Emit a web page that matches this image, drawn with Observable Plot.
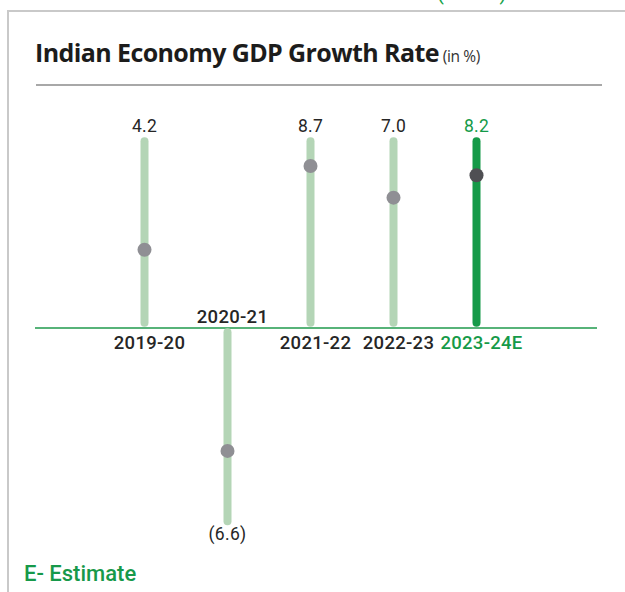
<!DOCTYPE html>
<html>
<head>
<meta charset="utf-8">
<script src="https://cdn.jsdelivr.net/npm/d3@7"></script>
<script src="https://cdn.jsdelivr.net/npm/@observablehq/plot@0.6"></script>
<style>
  html, body { margin: 0; padding: 0; background: #fff; }
  #wrap { position: relative; width: 625px; height: 592px; overflow: hidden; font-family: Roboto, sans-serif; }
  #topcut { position: absolute; left: 437px; top: -19px; font: 400 20px Roboto, sans-serif; color: #17a34a; letter-spacing: 2px; white-space: nowrap; }
  #boxTop { position: absolute; left: 7px; top: 10px; width: 630px; height: 0; border-top: 2px solid #c9c9c9; }
  #boxLeft { position: absolute; left: 7px; top: 10px; width: 0; height: 600px; border-left: 2px solid #c9c9c9; }
  #title { position: absolute; left: 35px; top: 35px; white-space: nowrap; color: #1c1c1c; }
  #title .main { font: 700 25px "Open Sans", sans-serif; letter-spacing: -0.6px; }
  #title .unit { font: 400 15.5px "Open Sans", sans-serif; color: #333; letter-spacing: -0.4px; }
  #titleLine { position: absolute; left: 36px; top: 84px; width: 566px; height: 0; border-top: 2px solid #a8a8a8; }
  #chart { position: absolute; left: 0; top: 95px; }
  #note { position: absolute; left: 24px; top: 561px; font: 500 22px Roboto, sans-serif; color: #17994a; letter-spacing: 0px; }
</style>
</head>
<body>
<div id="wrap">
  <div id="topcut">(FY24)</div>
  <div id="boxTop"></div>
  <div id="boxLeft"></div>
  <div id="title"><span class="main">Indian Economy GDP Growth Rate</span> <span class="unit">(in %)</span></div>
  <div id="titleLine"></div>
  <div id="chart"></div>
  <div id="note">E- Estimate</div>
</div>
<script>
// ---- data ----
const years = ["2019-20", "2020-21", "2021-22", "2022-23", "2023-24E"];
const growth = [4.2, -6.6, 8.7, 7.0, 8.2];
const valueLabels = ["4.2", "(6.6)", "8.7", "7.0", "8.2"];
const highlightYear = "2023-24E";
const trackMax = 10;      // top of positive tracks (in %)
const trackMin = -10.4;   // bottom of negative track (in %)
const trackBase = 0.25;   // gap at the zero line

// ---- colours ----
const lightGreen = "#b4d5b6";
const strongGreen = "#159a48";
const dotGrey = "#8f8f94";
const dotDark = "#4f4f53";
const textDark = "#262626";

const data = years.map((year, i) => ({
  year,
  value: growth[i],
  label: valueLabels[i],
  hi: year === highlightYear
}));
const pos = data.filter(d => d.value >= 0);
const neg = data.filter(d => d.value < 0);

const chart = Plot.plot({
  width: 625,
  height: 456,
  marginTop: 9,
  marginBottom: 0,
  marginLeft: 35,
  marginRight: 28,
  style: { fontFamily: "Roboto, sans-serif", letterSpacing: "0.3px", background: "transparent" },
  x: { type: "point", domain: years, padding: 0, insetLeft: 108, insetRight: 120, axis: null },
  y: { domain: [-12, 12], axis: null },
  marks: [
    Plot.ruleY([0], { stroke: "#1f9a4d", strokeWidth: 1.5 }),
    Plot.ruleX(data, {
      x: "year",
      y1: d => (d.value < 0 ? -trackBase : trackBase),
      y2: d => (d.value < 0 ? trackMin : trackMax),
      stroke: d => (d.hi ? strongGreen : lightGreen),
      strokeWidth: 8,
      strokeLinecap: "round"
    }),
    Plot.dot(data, {
      x: "year",
      y: "value",
      r: 7,
      fill: d => (d.hi ? dotDark : dotGrey),
      stroke: "none"
    }),
    Plot.text(pos, {
      x: "year",
      y: trackMax,
      text: "label",
      dy: -15,
      fontSize: 17.5,
      fill: d => (d.hi ? strongGreen : textDark)
    }),
    Plot.text(neg, {
      x: "year",
      y: trackMin,
      text: "label",
      dy: 13,
      fontSize: 17.5,
      fill: textDark
    }),
    Plot.text(pos, {
      x: "year",
      y: 0,
      text: "year",
      dx: 5,
      dy: 15,
      fontSize: 18.5,
      fontWeight: 500,
      fill: d => (d.hi ? strongGreen : textDark)
    }),
    Plot.text(neg, {
      x: "year",
      y: 0,
      text: "year",
      dx: 5,
      dy: -11,
      fontSize: 18.5,
      fontWeight: 500,
      fill: textDark
    })
  ]
});
document.getElementById("chart").appendChild(chart);
</script>
</body>
</html>
